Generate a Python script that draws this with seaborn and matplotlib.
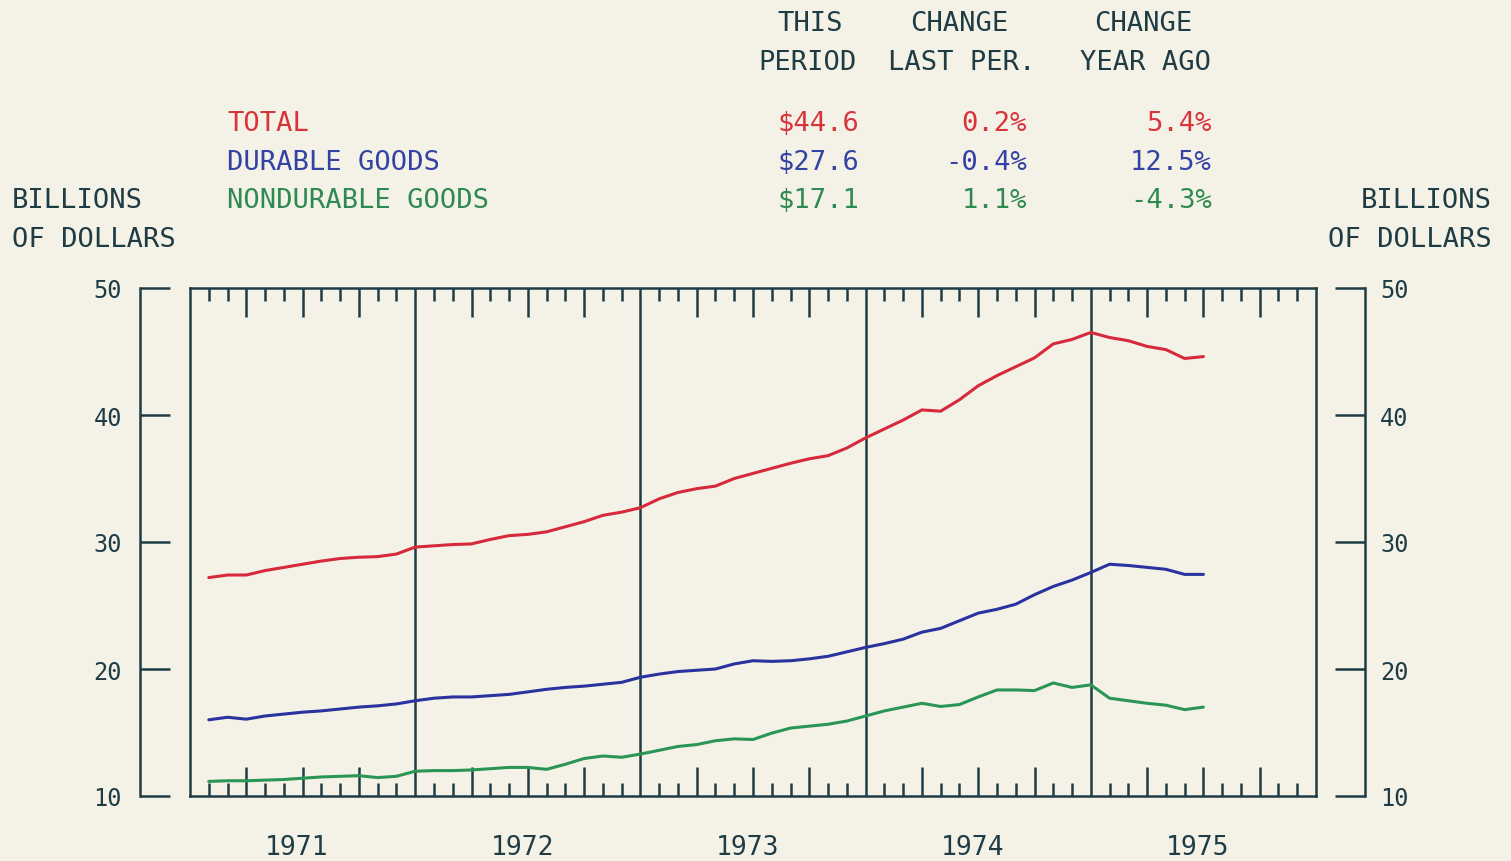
import numpy as np
import pandas as pd
import matplotlib
matplotlib.use("Agg")
import matplotlib.pyplot as plt
import seaborn as sns

# ---------------- data ----------------
months = list(range(1, 55))  # month index from Jan 1971 (month-end positions)
total = [27.2, 27.4, 27.4, 27.75, 28.0, 28.25, 28.5, 28.7, 28.8, 28.85, 29.05, 29.6,
         29.7, 29.8, 29.85, 30.2, 30.5, 30.6, 30.8, 31.2, 31.6, 32.1, 32.35, 32.7,
         33.4, 33.9, 34.2, 34.4, 35.0, 35.4, 35.8, 36.2, 36.55, 36.8, 37.4, 38.2,
         38.9, 39.6, 40.4, 40.3, 41.2, 42.3, 43.1, 43.8, 44.5, 45.6, 45.95, 46.5,
         46.1, 45.85, 45.4, 45.15, 44.45, 44.6]
durable = [16.0, 16.2, 16.05, 16.3, 16.45, 16.6, 16.7, 16.85, 17.0, 17.1, 17.25, 17.5,
           17.7, 17.8, 17.8, 17.9, 18.0, 18.2, 18.4, 18.55, 18.65, 18.8, 18.95, 19.35,
           19.6, 19.8, 19.9, 20.0, 20.4, 20.65, 20.6, 20.65, 20.8, 21.0, 21.35, 21.7,
           22.0, 22.35, 22.9, 23.2, 23.8, 24.4, 24.7, 25.1, 25.85, 26.5, 27.0, 27.6,
           28.25, 28.15, 28.0, 27.85, 27.45, 27.45]
nondurable = [11.15, 11.2, 11.2, 11.25, 11.3, 11.4, 11.5, 11.55, 11.6, 11.45, 11.55, 11.95,
              12.0, 12.0, 12.05, 12.15, 12.25, 12.25, 12.1, 12.5, 12.95, 13.15, 13.05, 13.3,
              13.6, 13.9, 14.05, 14.35, 14.5, 14.45, 14.95, 15.35, 15.5, 15.65, 15.9, 16.3,
              16.7, 17.0, 17.3, 17.05, 17.2, 17.8, 18.35, 18.35, 18.3, 18.9, 18.55, 18.75,
              17.7, 17.5, 17.3, 17.15, 16.8, 17.0]

series_names = ["TOTAL", "DURABLE GOODS", "NONDURABLE GOODS"]
this_period = ["$44.6", "$27.6", "$17.1"]
change_last = ["0.2%", "-0.4%", "1.1%"]
change_year = ["5.4%", "12.5%", "-4.3%"]
years = ["1971", "1972", "1973", "1974", "1975"]
y_ticks = [10, 20, 30, 40, 50]

# ---------------- style ----------------
W, H = 1511, 862
BG = "#f4f2e6"
INK = "#1f3c45"
line_colors = {"TOTAL": "#d62a3c", "DURABLE GOODS": "#2a32a0", "NONDURABLE GOODS": "#2a9656"}
text_colors = ["#d8343c", "#3442a4", "#2e8a50"]

sns.set_style("white")
plt.rcParams["font.family"] = ["DejaVu Sans Mono", "DejaVu Sans"]
plt.rcParams["axes.linewidth"] = 1.8

fig = plt.figure(figsize=(W / 100, H / 100), dpi=100, facecolor=BG)

def fx(px):
    return px / W

def fy(py):
    return 1 - py / H

L, R, T, B = 190, 1316, 289, 797
ax = fig.add_axes([fx(L), fy(B), fx(R - L), (B - T) / H])
ax.set_facecolor(BG)

df = pd.DataFrame({
    "month": months * 3,
    "value": total + durable + nondurable,
    "series": [series_names[0]] * 54 + [series_names[1]] * 54 + [series_names[2]] * 54,
})
sns.lineplot(data=df, x="month", y="value", hue="series", palette=line_colors,
             legend=False, ax=ax, linewidth=2.2)

ax.set_xlim(0, 60)
ax.set_ylim(10, 50)
ax.set_xlabel("")
ax.set_ylabel("")
ax.set_yticks([])
major = [m for m in range(3, 60, 3) if m % 12 != 0]
minor = [m for m in range(1, 60) if m % 3 != 0]
ax.set_xticks(major)
ax.set_xticks(minor, minor=True)
ax.set_xticklabels([])
ax.tick_params(axis="x", which="major", direction="in", length=21, width=1.8,
               color=INK, top=True, bottom=True)
ax.tick_params(axis="x", which="minor", direction="in", length=9.5, width=1.8,
               color=INK, top=True, bottom=True)
for sp in ax.spines.values():
    sp.set_color(INK)
    sp.set_linewidth(1.8)
for yb in [12, 24, 36, 48]:
    ax.axvline(yb, color=INK, lw=1.8, zorder=1)

for i, yr in enumerate(years):
    ax.text(6 + 12 * i - 0.3, -0.101, yr, transform=ax.get_xaxis_transform(),
            ha="center", va="center", fontsize=19, color=INK)

# left scale
axl = fig.add_axes([fx(140), fy(B), fx(30), (B - T) / H])
axl.patch.set_visible(False)
axl.set_ylim(10, 50)
axl.set_xticks([])
axl.set_yticks(y_ticks)
axl.set_yticklabels([str(v) for v in y_ticks])
for s in ["top", "bottom", "right"]:
    axl.spines[s].set_visible(False)
axl.spines["left"].set_color(INK)
axl.spines["left"].set_linewidth(1.8)
axl.tick_params(axis="y", direction="in", length=21.6, width=1.8, color=INK,
                pad=13, labelsize=17, labelcolor=INK, left=True, right=False)

# right scale
axr = fig.add_axes([fx(1336), fy(B), fx(29), (B - T) / H])
axr.patch.set_visible(False)
axr.set_ylim(10, 50)
axr.set_xticks([])
axr.yaxis.tick_right()
axr.set_yticks(y_ticks)
axr.set_yticklabels([str(v) for v in y_ticks])
for s in ["top", "bottom", "left"]:
    axr.spines[s].set_visible(False)
axr.spines["right"].set_color(INK)
axr.spines["right"].set_linewidth(1.8)
axr.tick_params(axis="y", direction="in", length=21.6, width=1.8, color=INK,
                pad=11, labelsize=17, labelcolor=INK, right=True, left=False)

# header texts
FS = 19.5
def t(x, y, s, ha="left", color=INK, fs=FS):
    fig.text(fx(x), fy(y), s, ha=ha, va="center", fontsize=fs, color=color)

t(810, 24, "THIS", "center")
t(808, 63, "PERIOD", "center")
t(959, 24, "CHANGE", "center")
t(962, 63, "LAST PER.", "center")
t(1143, 24, "CHANGE", "center")
t(1145, 63, "YEAR AGO", "center")

rows_y = [124, 163, 201]
for i in range(3):
    t(227, rows_y[i], series_names[i], "left", text_colors[i])
    t(859, rows_y[i], this_period[i], "right", text_colors[i])
    t(1027, rows_y[i], change_last[i], "right", text_colors[i])
    t(1212, rows_y[i], change_year[i], "right", text_colors[i])

t(12, 201, "BILLIONS", "left")
t(12, 240, "OF DOLLARS", "left")
t(1492, 201, "BILLIONS", "right")
t(1492, 240, "OF DOLLARS", "right")

fig.savefig("out.png", dpi=100, facecolor=BG)
